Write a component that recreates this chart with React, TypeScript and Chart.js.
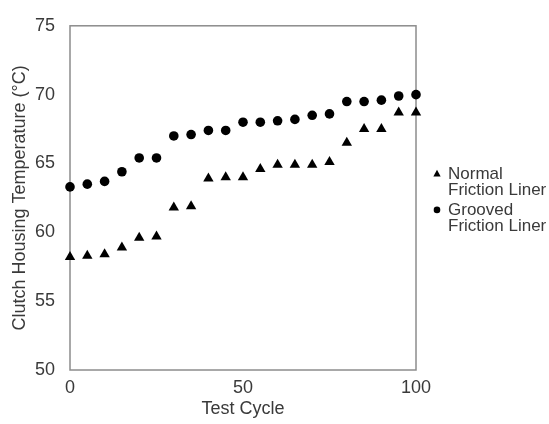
import React, { useEffect, useRef } from "react";
import { Chart, registerables } from "chart.js";

Chart.register(...registerables);

const cycles = [0, 5, 10, 15, 20, 25, 30, 35, 40, 45, 50, 55, 60, 65, 70, 75, 80, 85, 90, 95, 100];
const normalLiner = [58.2, 58.3, 58.4, 58.9, 59.6, 59.7, 61.8, 61.9, 63.9, 64.0, 64.0, 64.6, 64.9, 64.9, 64.9, 65.1, 66.5, 67.5, 67.5, 68.7, 68.7];
const groovedLiner = [63.3, 63.5, 63.7, 64.4, 65.4, 65.4, 67.0, 67.1, 67.4, 67.4, 68.0, 68.0, 68.1, 68.2, 68.5, 68.6, 69.5, 69.5, 69.6, 69.9, 70.0];
const seriesLabels = [["Normal", "Friction Liner"], ["Grooved", "Friction Liner"]];
const xTicks = [0, 50, 100];
const yTicks = [50, 55, 60, 65, 70, 75];

const FONT = "'Liberation Sans', Arial, sans-serif";
const TEXT = "#3a3a3a";
const AXIS = "#8c8c8c";

const boxPlugin = {
  id: "plotBox",
  beforeDatasetsDraw(chart: any) {
    const { ctx, chartArea } = chart;
    ctx.save();
    ctx.strokeStyle = AXIS;
    ctx.lineWidth = 1.5;
    ctx.strokeRect(chartArea.left, chartArea.top, chartArea.right - chartArea.left, chartArea.bottom - chartArea.top);
    ctx.restore();
  },
};

const legendPlugin = {
  id: "sideLegend",
  afterDraw(chart: any) {
    const { ctx, chartArea } = chart;
    const fontSize = 17;
    const lineH = 16;
    const gap = 4;
    const items = chart.data.datasets.map((d: any) => ({
      text: d.label as string[],
      style: d.pointStyle as string,
      color: d.pointBackgroundColor as string,
    }));
    const totalH = items.reduce((s: number, it: any) => s + it.text.length * lineH, 0) + gap * (items.length - 1);
    const cy = (chartArea.top + chartArea.bottom) / 2 + 2;
    let y = cy - totalH / 2;
    const markerX = chartArea.right + 21;
    const textX = chartArea.right + 32;
    ctx.save();
    ctx.font = `${fontSize}px ${FONT}`;
    ctx.textBaseline = "middle";
    ctx.textAlign = "left";
    items.forEach((it: any) => {
      const my = y + lineH / 2;
      ctx.fillStyle = it.color;
      ctx.beginPath();
      if (it.style === "triangle") {
        const r = 4.2;
        ctx.moveTo(markerX, my - r);
        ctx.lineTo(markerX + r * 0.866, my + r * 0.6);
        ctx.lineTo(markerX - r * 0.866, my + r * 0.6);
        ctx.closePath();
      } else {
        ctx.arc(markerX, my, 3.3, 0, Math.PI * 2);
      }
      ctx.fill();
      ctx.fillStyle = TEXT;
      it.text.forEach((line: string, i: number) => {
        ctx.fillText(line, textX, y + lineH / 2 + i * lineH);
      });
      y += it.text.length * lineH + gap;
    });
    ctx.restore();
  },
};

export default function App() {
  const ref = useRef<HTMLCanvasElement>(null);
  useEffect(() => {
    if (!ref.current) return;
    const chart = new Chart(ref.current, {
      type: "scatter",
      data: {
        datasets: [
          {
            label: seriesLabels[0] as any,
            data: cycles.map((c, i) => ({ x: c, y: normalLiner[i] })),
            pointStyle: "triangle",
            pointRadius: 6,
            pointBackgroundColor: "#000000",
            pointBorderColor: "#000000",
            pointBorderWidth: 0,
            backgroundColor: "#000000",
            borderColor: "#000000",
            clip: false as any,
          },
          {
            label: seriesLabels[1] as any,
            data: cycles.map((c, i) => ({ x: c, y: groovedLiner[i] })),
            pointStyle: "circle",
            pointRadius: 4.8,
            pointBackgroundColor: "#000000",
            pointBorderColor: "#000000",
            pointBorderWidth: 0,
            backgroundColor: "#000000",
            borderColor: "#000000",
            clip: false as any,
          },
        ],
      },
      options: {
        animation: false,
        responsive: false,
        layout: { padding: { top: 22, right: 133, left: 0, bottom: 0 } },
        plugins: {
          legend: { display: false },
          tooltip: { enabled: false },
        },
        scales: {
          x: {
            type: "linear",
            min: 0,
            max: 100,
            afterBuildTicks: (s: any) => {
              s.ticks = xTicks.map((v) => ({ value: v }));
            },
            afterFit: (s: any) => {
              s.height = 54;
            },
            grid: { display: false, drawTicks: false },
            border: { display: false },
            ticks: { color: TEXT, font: { size: 18, family: FONT }, padding: 7, maxRotation: 0 },
            title: {
              display: true,
              text: "Test Cycle",
              color: TEXT,
              font: { size: 18, family: FONT },
              padding: { top: 0, bottom: 4 },
            },
          },
          y: {
            type: "linear",
            min: 50,
            max: 75,
            afterBuildTicks: (s: any) => {
              s.ticks = yTicks.map((v) => ({ value: v }));
            },
            afterFit: (s: any) => {
              s.width = 70;
            },
            grid: { display: false, drawTicks: false },
            border: { display: false },
            ticks: { color: TEXT, font: { size: 18, family: FONT }, padding: 15 },
            title: {
              display: true,
              text: "Clutch Housing Temperature (°C)",
              color: TEXT,
              font: { size: 18, family: FONT },
              padding: { top: 9, bottom: 0 },
            },
          },
        },
      },
      plugins: [boxPlugin, legendPlugin],
    });
    return () => chart.destroy();
  }, []);
  return (
    <div style={{ position: "fixed", left: 0, top: 0, width: 549, height: 424, background: "#ffffff" }}>
      <canvas ref={ref} width={549} height={424} />
    </div>
  );
}
